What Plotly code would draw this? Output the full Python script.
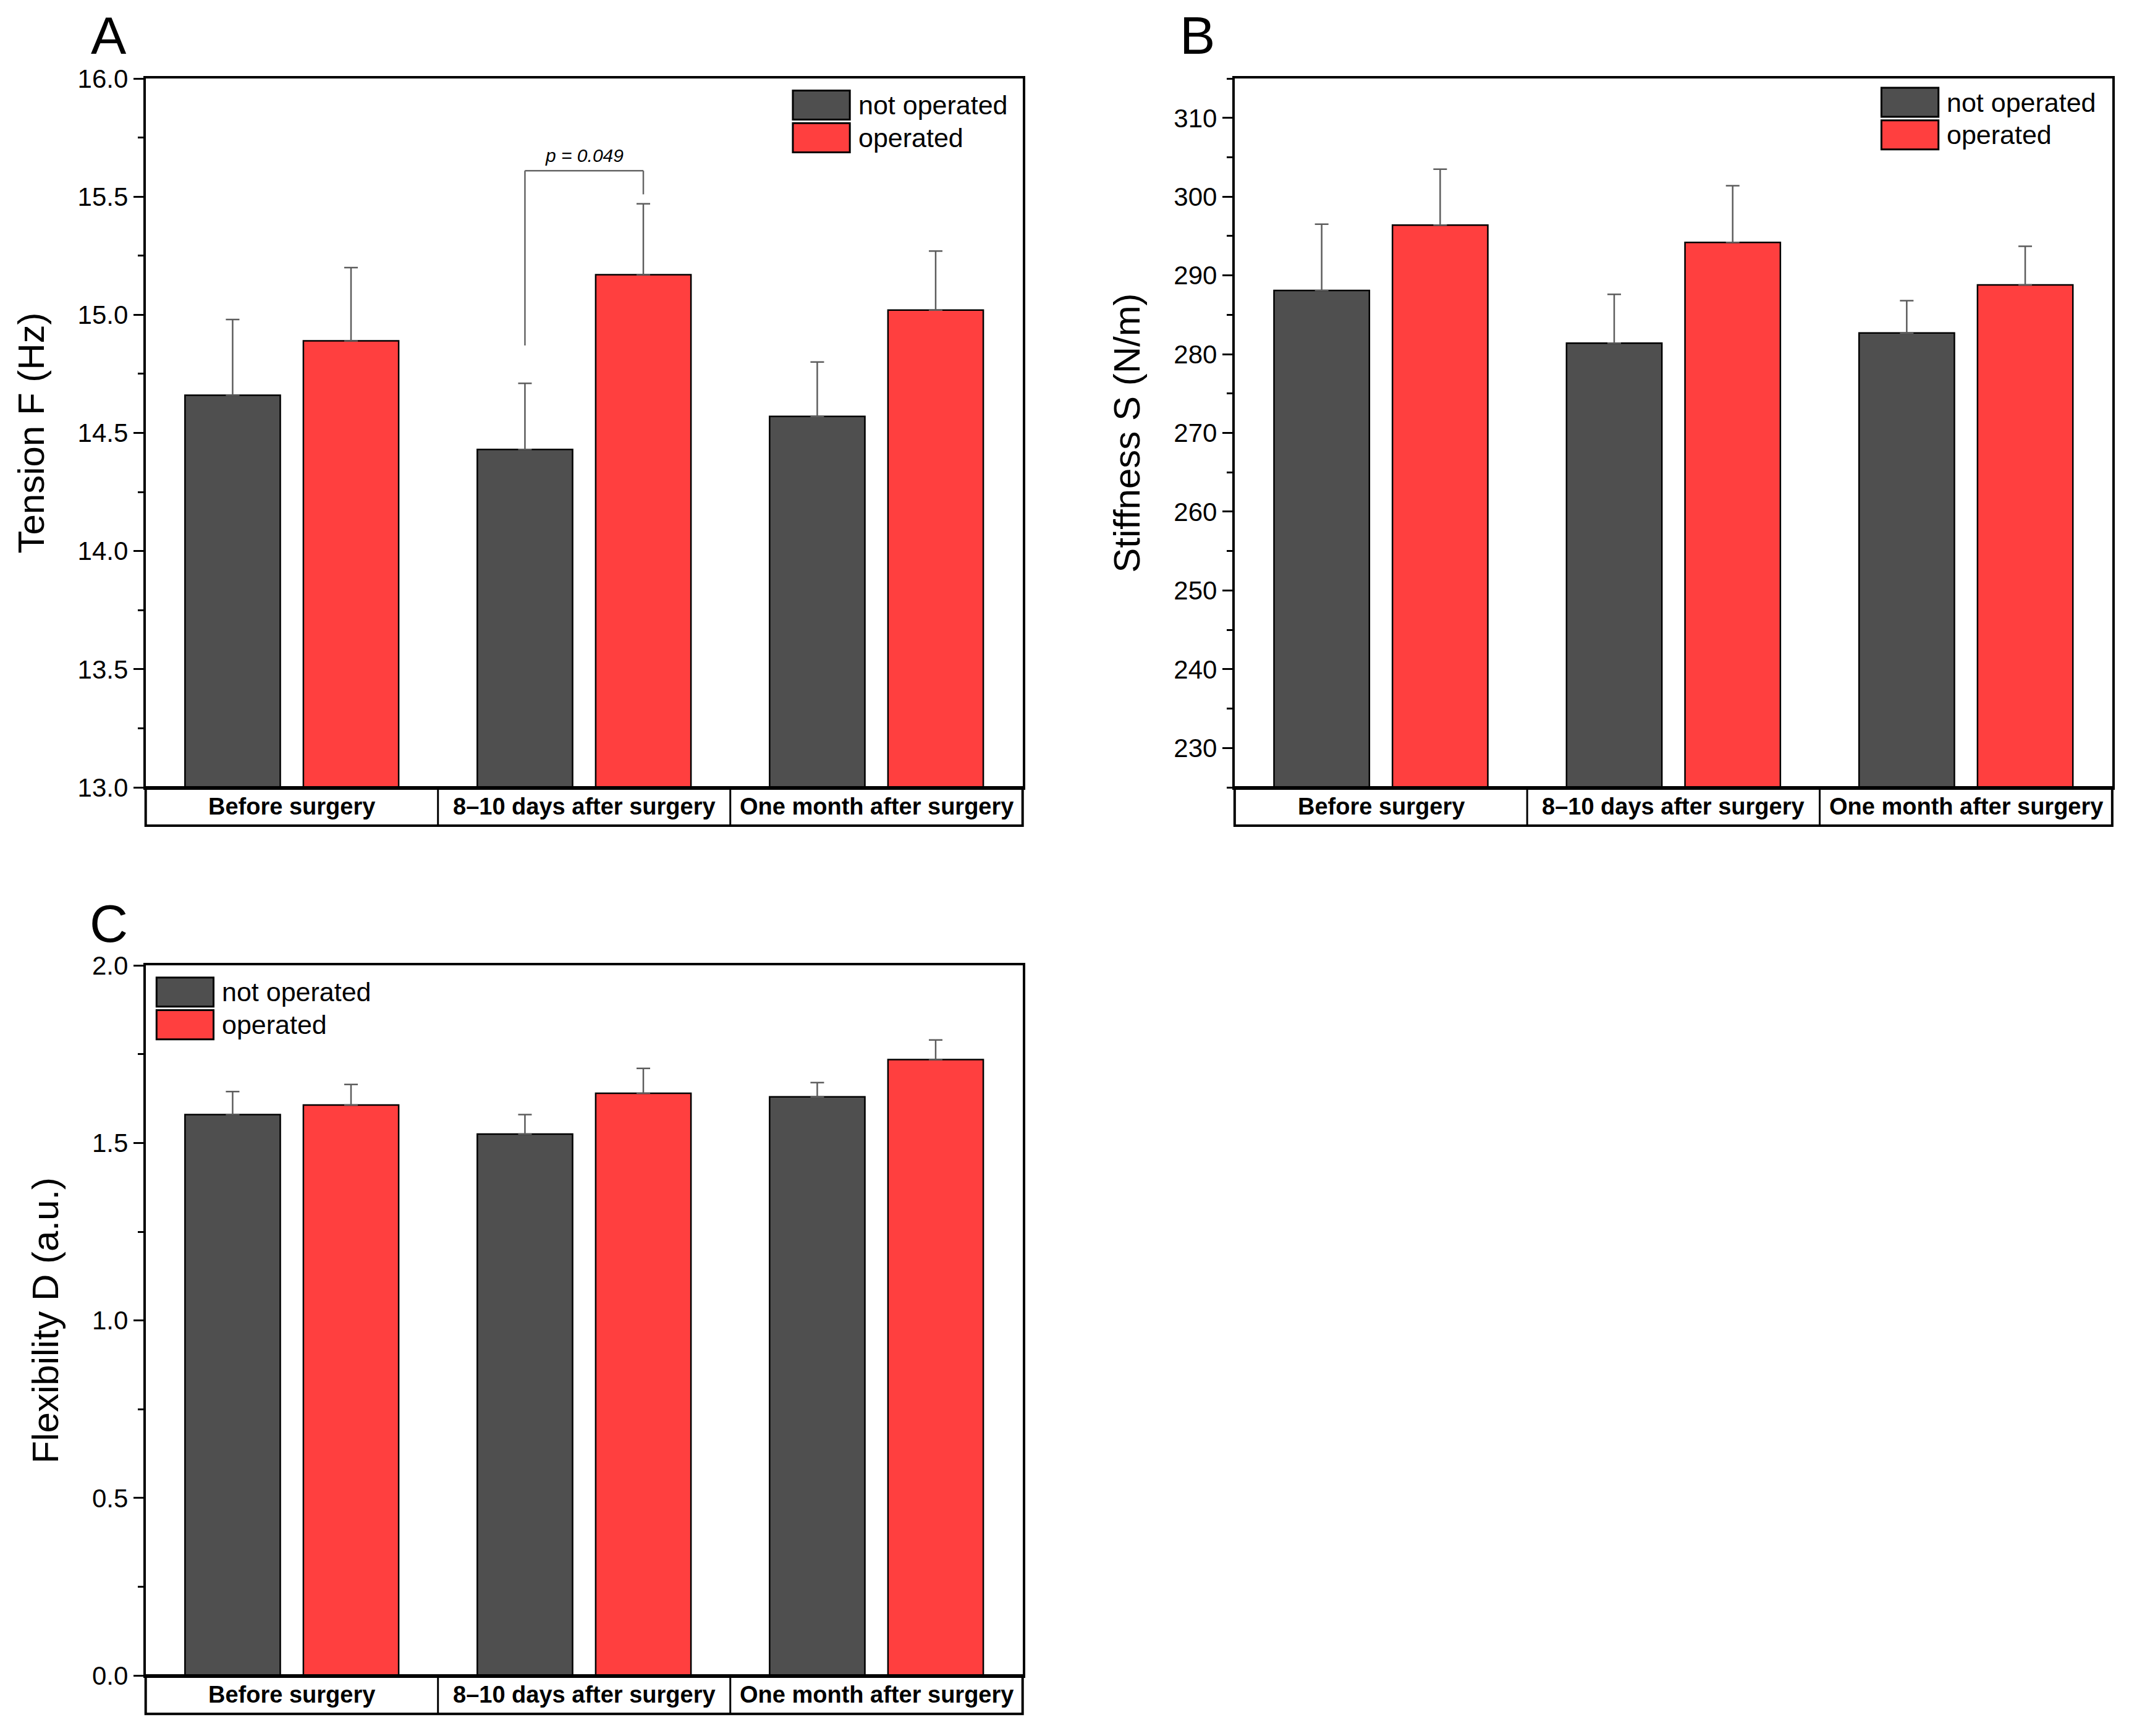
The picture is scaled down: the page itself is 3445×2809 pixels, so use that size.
import plotly.graph_objects as go

# categories and group names
categories = ["Before surgery", "8\u201310 days after surgery", "One month after surgery"]
groups = ["not operated", "operated"]

# panel A: tension F (Hz), bar means and upper error (SD)
tension_not = [14.66, 14.43, 14.57]
tension_not_err = [0.32, 0.28, 0.23]
tension_op = [14.89, 15.17, 15.02]
tension_op_err = [0.31, 0.30, 0.25]

# panel B: stiffness S (N/m)
stiff_not = [288.1, 281.4, 282.7]
stiff_not_err = [8.4, 6.2, 4.1]
stiff_op = [296.4, 294.2, 288.8]
stiff_op_err = [7.1, 7.2, 4.9]

# panel C: flexibility D (a.u.)
flex_not = [1.58, 1.525, 1.63]
flex_not_err = [0.065, 0.055, 0.04]
flex_op = [1.607, 1.64, 1.735]
flex_op_err = [0.058, 0.07, 0.055]

# significance marker in A
p_text = "p = 0.049"
p_left_bottom = 14.87
p_top = 15.61
p_right_bottom = 15.51

DARK = "#4f4f4f"
RED = "#ff3f3f"
ERR = "#5c5c5c"
BARGAP = 0.19
BARGROUPGAP = 0.195

FONT = "Liberation Sans, Arial, sans-serif"

fig = go.Figure()

panels = [
    # xaxis, yaxis, data, x domain, y domain, y range, dtick, tick0, fmt, title, legend x0, legend y top
    ("x", "y", (tension_not, tension_not_err, tension_op, tension_op_err),
     [0.0661, 0.4780], [0.5493, 0.9576], [13, 16], 0.5, 13, ".1f", "Tension F (Hz)", 0.738, 0.983),
    ("x2", "y2", (stiff_not, stiff_not_err, stiff_op, stiff_op_err),
     [0.5776, 0.9898], [0.5493, 0.9576], [225, 315], 10, 230, "d", "Stiffness S (N/m)", 0.737, 0.987),
    ("x3", "y3", (flex_not, flex_not_err, flex_op, flex_op_err),
     [0.0661, 0.4780], [0.0377, 0.4467], [0, 2], 0.5, 0, ".1f", "Flexibility D (a.u.)", 0.0124, 0.983),
]

shapes = []
annotations = []

for i, (xa, ya, vals, xd, yd, yr, dt, t0, fmt, title, lx, ly) in enumerate(panels):
    n_vals, n_err, o_vals, o_err = vals
    for name, v, e, col in [(groups[0], n_vals, n_err, DARK), (groups[1], o_vals, o_err, RED)]:
        fig.add_trace(go.Bar(
            x=categories, y=v, name=name, xaxis=xa, yaxis=ya, showlegend=False,
            marker=dict(color=col, line=dict(color="black", width=2.5)),
            error_y=dict(type="data", symmetric=False, array=e, arrayminus=[0] * len(e),
                         color=ERR, thickness=2.5, width=11),
        ))
    suffix = "" if i == 0 else str(i + 1)
    fig.update_layout(**{
        "xaxis" + suffix: dict(domain=xd, anchor=ya, showticklabels=False, ticks="",
                               showline=True, linecolor="black", linewidth=4, mirror=True,
                               showgrid=False, zeroline=False, range=[-0.5, 2.5], automargin=False),
        "yaxis" + suffix: dict(domain=yd, anchor=xa, range=yr, dtick=dt, tick0=t0,
                               tickformat=fmt, ticks="outside", ticklen=16, tickwidth=3,
                               tickcolor="black", showline=True, linecolor="black", linewidth=4,
                               mirror=True, showgrid=False, zeroline=False, automargin=False,
                               tickfont=dict(family=FONT, size=42, color="black"),
                               minor=dict(dtick=dt / 2, ticks="outside", ticklen=9, tickwidth=3,
                                          tickcolor="black", showgrid=False),
                               title=dict(text=title, standoff=36,
                                          font=dict(family=FONT, size=60, color="black"))),
    })
    xdom = xa + " domain"
    ydom = ya + " domain"
    # category box under the plot
    box_h = 0.054
    shapes.append(dict(type="rect", xref=xdom, yref=ydom, x0=0, x1=1, y0=-box_h, y1=0,
                       line=dict(color="black", width=4)))
    for k in (1, 2):
        shapes.append(dict(type="line", xref=xdom, yref=ydom, x0=k / 3, x1=k / 3, y0=-box_h, y1=0,
                           line=dict(color="black", width=3)))
    for k, c in enumerate(categories):
        annotations.append(dict(xref=xdom, yref=ydom, x=(k + 0.5) / 3, y=-box_h / 2, text="<b>" + c + "</b>",
                                xanchor="center", yanchor="middle", showarrow=False,
                                font=dict(family=FONT, size=38, color="black")))
    # legend drawn as swatches
    sw_w = 0.065
    sw_h = 0.041
    for r, (g, col) in enumerate([(groups[0], DARK), (groups[1], RED)]):
        top = ly - r * 0.046
        shapes.append(dict(type="rect", xref=xdom, yref=ydom, x0=lx, x1=lx + sw_w, y0=top - sw_h, y1=top,
                           fillcolor=col, line=dict(color="black", width=3)))
        annotations.append(dict(xref=xdom, yref=ydom, x=lx + sw_w + 0.008, y=top - sw_h / 2, text=g,
                                xanchor="left", yanchor="middle", showarrow=False,
                                font=dict(family=FONT, size=43, color="black")))

# significance bracket on panel A, positioned at the bar centres
off = (1 - BARGAP) / 4
xl = 1 - off
xr = 1 + off
for x0, y0, x1, y1 in [(xl, p_left_bottom, xl, p_top), (xl, p_top, xr, p_top), (xr, p_top, xr, p_right_bottom)]:
    shapes.append(dict(type="line", xref="x", yref="y", x0=x0, y0=y0, x1=x1, y1=y1,
                       line=dict(color="#666666", width=2.5)))
annotations.append(dict(xref="x", yref="y", x=1, y=p_top, text="<i>" + p_text + "</i>", showarrow=False,
                        xanchor="center", yanchor="bottom", yshift=6,
                        font=dict(family=FONT, size=30, color="black")))

# panel letters
for letter, px, py in [("A", 0.0488, 0.9826), ("B", 0.5602, 0.9826), ("C", 0.0488, 0.4710)]:
    annotations.append(dict(xref="paper", yref="paper", x=px, y=py, text=letter, showarrow=False,
                            xanchor="center", yanchor="middle", font=dict(family=FONT, size=86, color="black")))

fig.update_layout(
    width=3445, height=2809, margin=dict(l=0, r=0, t=0, b=0, autoexpand=False),
    paper_bgcolor="white", plot_bgcolor="white",
    barmode="group", bargap=BARGAP, bargroupgap=BARGROUPGAP,
    shapes=shapes, annotations=annotations,
)

fig.write_html("out.html")
